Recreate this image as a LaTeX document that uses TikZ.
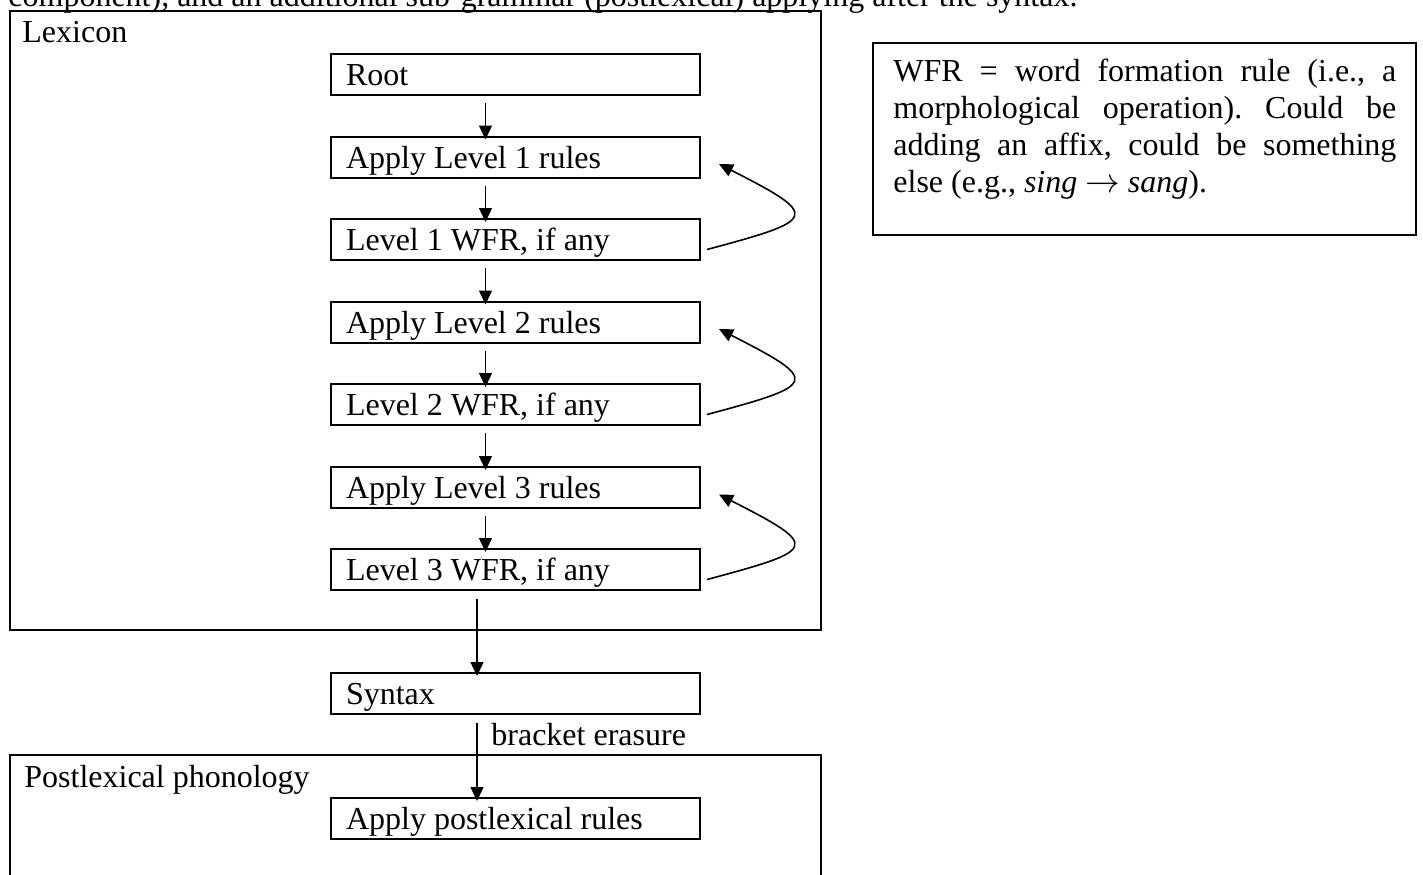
\documentclass[tikz,border=0pt]{standalone}
\usepackage{fontspec}
\setmainfont{Liberation Serif}
\usetikzlibrary{arrows.meta,calc}

\tikzset{
  stage/.style={draw, line width=1pt, anchor=north west, minimum width=184.5pt, minimum height=20.5pt,
    text width=169.5pt, inner xsep=7.5pt, inner ysep=0pt, text height=11pt, text depth=0pt, align=flush left},
  component/.style={draw, line width=1pt},
  caption/.style={anchor=base west, inner sep=0pt},
  flow/.style={-{Triangle[length=7pt,width=6.5pt]}, line width=0.7pt},
  feedback/.style={-{Triangle[length=7pt,width=6.5pt]}, line width=0.8pt},
}

\begin{document}
\frenchspacing
\begin{tikzpicture}[x=0.5pt, y=0.5pt, font=\fontsize{16}{18.4}\selectfont]
\clip (0,0) rectangle (1423,-874);
% the two sub-grammars
\draw[component] (10,-11) rectangle (821,-630);
\draw[component] (10,-755) rectangle (821,-900);
\node[caption] (header) at (8,-6) {component), and an additional sub-grammar (postlexical) applying after the syntax.};
\node[caption] (lexicon) at (22,-42) {Lexicon};
\node[caption] (postlex) at (24,-787) {Postlexical phonology};

\node[stage] (root) at (330,-53) {Root};
\node[stage] (apply1) at (330,-135.5) {Apply Level 1 rules};
\node[stage] (wfr1) at (330,-218) {Level 1 WFR, if any};
\node[stage] (apply2) at (330,-300.5) {Apply Level 2 rules};
\node[stage] (wfr2) at (330,-383) {Level 2 WFR, if any};
\node[stage] (apply3) at (330,-466) {Apply Level 3 rules};
\node[stage] (wfr3) at (330,-548) {Level 3 WFR, if any};
\node[stage] (syntax) at (330,-672) {Syntax};
\node[stage] (applyp) at (330,-797) {Apply postlexical rules};
\node[caption] (erasure) at (491,-745) {bracket erasure};

% side note
\draw[component] (873,-43) rectangle (1416,-235);
\node[anchor=north west, inner sep=0pt, text width=251.5pt, align=justify] (note) at (893,-59)
  {WFR = word formation rule (i.e., a\linebreak morphological operation). Could be\linebreak
   adding an affix, could be something\linebreak else (e.g., \textit{sing} $\rightarrow$ \textit{sang}).};

% downward steps
\draw[flow] ([xshift=-15pt,yshift=-3.5pt]root.south) -- ([xshift=-15pt,yshift=-2pt]apply1.north);
\draw[flow] ([xshift=-15pt,yshift=-3.5pt]apply1.south) -- ([xshift=-15pt,yshift=-2pt]wfr1.north);
\draw[flow] ([xshift=-15pt,yshift=-3.5pt]wfr1.south) -- ([xshift=-15pt,yshift=-2pt]apply2.north);
\draw[flow] ([xshift=-15pt,yshift=-3.5pt]apply2.south) -- ([xshift=-15pt,yshift=-2pt]wfr2.north);
\draw[flow] ([xshift=-15pt,yshift=-3.5pt]wfr2.south) -- ([xshift=-15pt,yshift=-2pt]apply3.north);
\draw[flow] ([xshift=-15pt,yshift=-3.5pt]apply3.south) -- ([xshift=-15pt,yshift=-2pt]wfr3.north);
\draw[flow] ([xshift=-19.25pt,yshift=-4pt]wfr3.south) -- ([xshift=-19.25pt,yshift=-2pt]syntax.north);
\draw[flow] ([xshift=-19.25pt,yshift=-4pt]syntax.south) -- ([xshift=-19.25pt,yshift=-2pt]applyp.north);

% each WFR loops back to the rules of its level
\draw[feedback] ($(wfr1.east)+(6,-10)$) .. controls +(15:115) and +(-27:115) .. ($(apply1.east)+(18,-7)$);
\draw[feedback] ($(wfr2.east)+(6,-10)$) .. controls +(15:115) and +(-27:115) .. ($(apply2.east)+(18,-7)$);
\draw[feedback] ($(wfr3.east)+(6,-10)$) .. controls +(15:115) and +(-27:115) .. ($(apply3.east)+(18,-7)$);
\end{tikzpicture}
\end{document}
